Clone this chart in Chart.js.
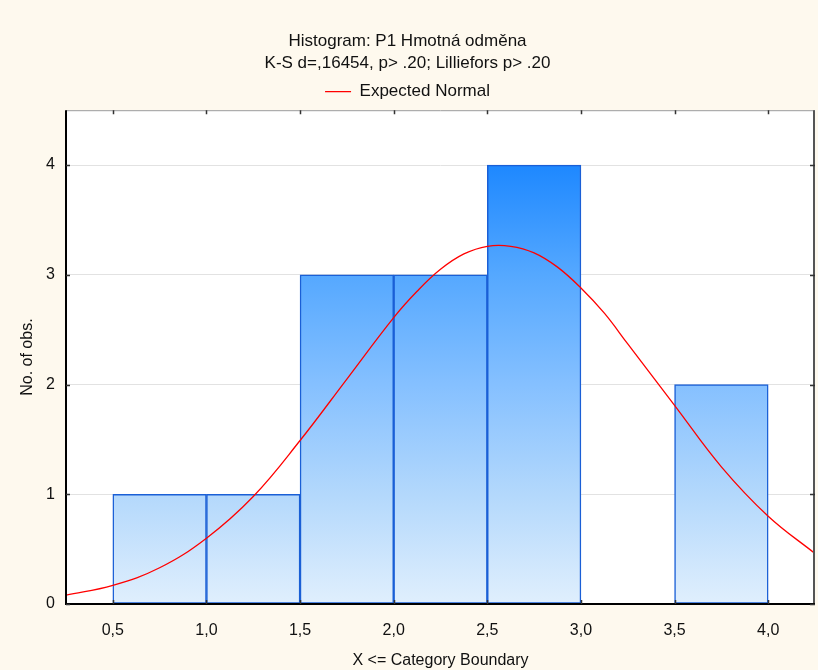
<!DOCTYPE html>
<html>
<head>
<meta charset="utf-8">
<script src="https://cdn.jsdelivr.net/npm/chart.js@4.4.1/dist/chart.umd.min.js"></script>
<style>
  html, body { margin: 0; padding: 0; background: #fef9ee; }
  #wrap { width: 818px; height: 670px; }
</style>
</head>
<body>
<div id="wrap"><canvas id="hist" width="818" height="670"></canvas></div>
<script>
// Histogram bins (upper boundary) and counts
const binCenters = [0.75, 1.25, 1.75, 2.25, 2.75, 3.25, 3.75];
const binCounts = [1, 1, 3, 3, 4, 0, 2];

// Expected normal curve
const curveX = [0.25, 0.5, 0.75, 1.0, 1.25, 1.5, 1.75, 2.0, 2.125, 2.25, 2.375, 2.5, 2.625, 2.75, 2.875, 3.0, 3.125, 3.25, 3.5, 3.75, 4.0, 4.25];
const curveY = [0.08, 0.17, 0.33, 0.60, 0.98, 1.49, 2.05, 2.61, 2.85, 3.05, 3.19, 3.26, 3.26, 3.20, 3.07, 2.88, 2.65, 2.37, 1.81, 1.25, 0.80, 0.46];

const xTicks = [0.5, 1.0, 1.5, 2.0, 2.5, 3.0, 3.5, 4.0];
const yTicks = [0, 1, 2, 3, 4];

const FONT = "'Liberation Sans', Arial, sans-serif";

// bar fill: vertical gradient tied to the y scale
function barFill(context) {
    const chart = context.chart;
    const y = chart.scales.y;
    if (!chart.chartArea || !y) return '#85c0ff';
    const g = chart.ctx.createLinearGradient(0, y.getPixelForValue(4), 0, y.getPixelForValue(0));
    g.addColorStop(0, '#1e88ff');
    g.addColorStop(0.25, '#55a8ff');
    g.addColorStop(0.5, '#85c0ff');
    g.addColorStop(0.75, '#b3d8fc');
    g.addColorStop(1, '#e0effd');
    return g;
}

// plot frame, white area and inward tick marks
const framePlugin = {
    id: 'frame',
    beforeDraw(chart) {
        const { ctx, chartArea: a } = chart;
        ctx.save();
        ctx.fillStyle = '#fef9ee';
        ctx.fillRect(0, 0, chart.width, chart.height);
        ctx.fillStyle = '#ffffff';
        ctx.fillRect(a.left, a.top, a.right - a.left, a.bottom - a.top);
        ctx.restore();
    },
    afterDraw(chart) {
        const { ctx, chartArea: a, scales } = chart;
        ctx.save();
        ctx.lineWidth = 1;
        ctx.strokeStyle = '#9a9a9a';
        ctx.beginPath();
        ctx.moveTo(a.left, a.top + 0.5);
        ctx.lineTo(a.right, a.top + 0.5);
        ctx.stroke();
        ctx.strokeStyle = '#555555';
        ctx.lineWidth = 2;
        ctx.beginPath();
        ctx.moveTo(a.right - 1, a.top);
        ctx.lineTo(a.right - 1, a.bottom);
        ctx.stroke();
        ctx.strokeStyle = '#000000';
        ctx.beginPath();
        ctx.moveTo(a.left, a.top);
        ctx.lineTo(a.left, a.bottom);
        ctx.lineTo(a.right, a.bottom);
        ctx.stroke();
        ctx.lineWidth = 1.5;
        ctx.strokeStyle = '#333333';
        yTicks.forEach(v => {
            const p = Math.round(scales.y.getPixelForValue(v)) + 0.5;
            ctx.beginPath();
            ctx.moveTo(a.left, p); ctx.lineTo(a.left + 4, p);
            ctx.moveTo(a.right, p); ctx.lineTo(a.right - 5, p);
            ctx.stroke();
        });
        xTicks.forEach(v => {
            const p = Math.round(scales.x.getPixelForValue(v)) + 0.5;
            ctx.beginPath();
            ctx.moveTo(p, a.bottom); ctx.lineTo(p, a.bottom - 4);
            ctx.moveTo(p, a.top); ctx.lineTo(p, a.top + 4);
            ctx.stroke();
        });
        ctx.restore();
    }
};

new Chart(document.getElementById('hist'), {
    data: {
        datasets: [
            {
                type: 'line',
                label: 'Expected Normal',
                data: curveX.map((x, i) => ({ x, y: curveY[i] })),
                borderColor: '#ff0000',
                backgroundColor: '#ff0000',
                borderWidth: 1.3,
                pointRadius: 0,
                tension: 0.4,
                order: 0
            },
            {
                type: 'bar',
                label: 'bins',
                data: binCenters.map((x, i) => ({ x, y: binCounts[i] })),
                backgroundColor: barFill,
                borderColor: '#1a5fd6',
                borderWidth: 1.5,
                borderSkipped: false,
                barPercentage: 1,
                categoryPercentage: 1,
                grouped: false,
                order: 1
            }
        ]
    },
    options: {
        responsive: false,
        animation: false,
        layout: { padding: { top: 0, right: 3, bottom: 0, left: 0 } },
        plugins: {
            title: {
                display: true,
                text: ['Histogram: P1 Hmotná odměna', 'K-S d=,16454, p> .20; Lilliefors p> .20'],
                color: '#111111',
                font: { family: FONT, size: 17, weight: 'normal', lineHeight: 1.3 },
                padding: { top: 30, bottom: 1 }
            },
            legend: {
                display: true,
                position: 'top',
                labels: {
                    filter: item => item.text === 'Expected Normal',
                    usePointStyle: true,
                    pointStyle: 'line',
                    pointStyleWidth: 26,
                    boxHeight: 12,
                    color: '#111111',
                    font: { family: FONT, size: 17 },
                    padding: 8
                }
            },
            tooltip: { enabled: false }
        },
        scales: {
            x: {
                type: 'linear',
                min: 0.25,
                max: 4.25,
                offset: false,
                afterBuildTicks: s => { s.ticks = xTicks.map(v => ({ value: v })); },
                afterFit: s => { s.height = 66; },
                grid: { display: false, drawTicks: false, offset: false },
                border: { display: false },
                ticks: {
                    color: '#111111',
                    font: { family: FONT, size: 16 },
                    padding: 17,
                    maxRotation: 0,
                    callback: v => v.toFixed(1).replace('.', ',')
                },
                title: {
                    display: true,
                    text: 'X <= Category Boundary',
                    color: '#111111',
                    font: { family: FONT, size: 16 },
                    padding: { top: 5, bottom: 0 }
                }
            },
            y: {
                min: 0,
                max: 4.5,
                afterBuildTicks: s => { s.ticks = yTicks.map(v => ({ value: v })); },
                afterFit: s => { s.width = 66; },
                grid: { color: '#e2e2e2', lineWidth: 1, drawTicks: false },
                border: { display: false },
                ticks: {
                    color: '#111111',
                    font: { family: FONT, size: 16 },
                    padding: 11
                },
                title: {
                    display: true,
                    text: 'No. of obs.',
                    color: '#111111',
                    font: { family: FONT, size: 16 },
                    padding: { top: 18, bottom: 4 }
                }
            }
        }
    },
    plugins: [framePlugin]
});
</script>
</body>
</html>
